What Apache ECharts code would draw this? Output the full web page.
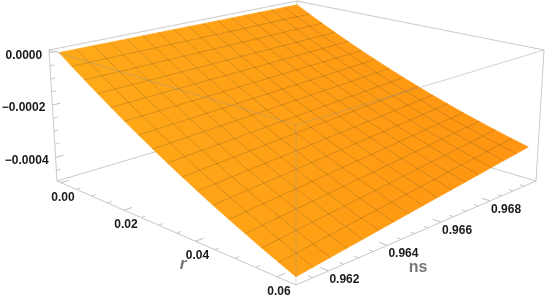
<!DOCTYPE html>
<html><head><meta charset="utf-8">
<style>html,body{margin:0;padding:0;background:#fff}#c{width:545px;height:299px}</style>
<script src="https://cdn.jsdelivr.net/npm/echarts@6/dist/echarts.min.js"></script>
</head><body><div id="c"></div>
<script>
var rValues=[0,0.0039375,0.007875,0.0118125,0.01575,0.0196875,0.023625,0.0275625,0.0315,0.0354375,0.039375,0.0433125,0.04725,0.0511875,0.055125,0.0590625,0.063];
var nsValues=[0.96116,0.9617,0.96225,0.96279,0.96334,0.96388,0.96442,0.96497,0.96551,0.96605,0.9666,0.96714,0.96769,0.96823,0.96877,0.96932,0.96986];
// surface height in units of 1e-4, one array per r value, running along nsValues
var zR00=[0,0,0,0,0,0,0,0,0,0,0,0,0,0,0,0,0];
var zR01=[-.376,-.371,-.367,-.362,-.357,-.353,-.348,-.343,-.339,-.334,-.329,-.324,-.320,-.315,-.310,-.306,-.301];
var zR02=[-.742,-.733,-.723,-.714,-.704,-.695,-.686,-.676,-.667,-.657,-.648,-.639,-.629,-.620,-.610,-.601,-.592];
var zR03=[-1.098,-1.084,-1.070,-1.056,-1.042,-1.028,-1.014,-.999,-.985,-.971,-.957,-.943,-.929,-.915,-.901,-.887,-.873];
var zR04=[-1.444,-1.425,-1.406,-1.388,-1.369,-1.350,-1.331,-1.312,-1.294,-1.275,-1.256,-1.237,-1.218,-1.200,-1.181,-1.162,-1.143];
var zR05=[-1.779,-1.756,-1.732,-1.709,-1.685,-1.662,-1.639,-1.615,-1.592,-1.568,-1.545,-1.522,-1.498,-1.475,-1.451,-1.428,-1.405];
var zR06=[-2.105,-2.077,-2.049,-2.021,-1.993,-1.965,-1.936,-1.908,-1.880,-1.852,-1.824,-1.796,-1.768,-1.740,-1.712,-1.684,-1.655];
var zR07=[-2.420,-2.387,-2.354,-2.322,-2.289,-2.256,-2.223,-2.190,-2.158,-2.125,-2.092,-2.059,-2.026,-1.994,-1.961,-1.928,-1.895];
var zR08=[-2.725,-2.688,-2.650,-2.613,-2.575,-2.538,-2.500,-2.463,-2.425,-2.388,-2.350,-2.313,-2.275,-2.238,-2.200,-2.163,-2.125];
var zR09=[-3.020,-2.978,-2.936,-2.893,-2.851,-2.809,-2.767,-2.725,-2.682,-2.640,-2.598,-2.556,-2.514,-2.471,-2.429,-2.387,-2.345];
var zR10=[-3.305,-3.258,-3.211,-3.164,-3.117,-3.071,-3.024,-2.977,-2.930,-2.883,-2.836,-2.789,-2.742,-2.695,-2.648,-2.602,-2.555];
var zR11=[-3.579,-3.527,-3.476,-3.424,-3.373,-3.321,-3.269,-3.218,-3.166,-3.115,-3.063,-3.011,-2.960,-2.908,-2.857,-2.805,-2.753];
var zR12=[-3.844,-3.788,-3.731,-3.675,-3.619,-3.563,-3.506,-3.450,-3.394,-3.338,-3.281,-3.225,-3.169,-3.113,-3.056,-3.000,-2.944];
var zR13=[-4.098,-4.037,-3.976,-3.915,-3.854,-3.794,-3.733,-3.672,-3.611,-3.550,-3.489,-3.428,-3.367,-3.306,-3.245,-3.185,-3.124];
var zR14=[-4.342,-4.276,-4.211,-4.145,-4.080,-4.014,-3.948,-3.883,-3.817,-3.752,-3.686,-3.620,-3.555,-3.489,-3.424,-3.358,-3.292];
var zR15=[-4.576,-4.506,-4.435,-4.365,-4.295,-4.224,-4.154,-4.084,-4.014,-3.943,-3.873,-3.803,-3.732,-3.662,-3.592,-3.521,-3.451];
var zR16=[-4.800,-4.725,-4.650,-4.575,-4.500,-4.425,-4.350,-4.275,-4.200,-4.125,-4.050,-3.975,-3.900,-3.825,-3.750,-3.675,-3.600];
var zByR=[zR00,zR01,zR02,zR03,zR04,zR05,zR06,zR07,zR08,zR09,zR10,zR11,zR12,zR13,zR14,zR15,zR16];
var rTicks=[0,0.02,0.04,0.06],nsTicks=[0.962,0.964,0.966,0.968],zTicks=[0,-0.0002,-0.0004];
var rTickLabels=['0.00','0.02','0.04','0.06'],nsTickLabels=['0.962','0.964','0.966','0.968'],zTickLabels=['0.0000','\u22120.0002','\u22120.0004'];
var rMinor=[0.005,0.01,0.015,0.025,0.03,0.035,0.045,0.05,0.055],nsMinor=[0.9615,0.9625,0.963,0.9635,0.9645,0.965,0.9655,0.9665,0.967,0.9675,0.9685,0.969,0.9695],zMinor=[-0.00005,-0.0001,-0.00015,-0.00025,-0.0003,-0.00035,-0.00045];
function zAt(i,j){return zByR[j][i]*1e-4;}

function homog(q){var x0=q[0][0],y0=q[0][1],x1=q[1][0],y1=q[1][1],x2=q[2][0],y2=q[2][1],x3=q[3][0],y3=q[3][1];
 var dx1=x1-x2,dx2=x3-x2,sx=x0-x1+x2-x3,dy1=y1-y2,dy2=y3-y2,sy=y0-y1+y2-y3,den=dx1*dy2-dx2*dy1;
 var g=(sx*dy2-dx2*sy)/den,h=(dx1*sy-sx*dy1)/den;
 var a=x1-x0+g*x1,b=x3-x0+h*x3,d=y1-y0+g*y1,e=y3-y0+h*y3;
 return function(u,v){var s=g*u+h*v+1;return [(a*u+b*v+x0)/s,(d*u+e*v+y0)/s];};}
var bottomFace=homog([[57,181],[296,285],[536,181],[296,110]]);
var topFace=homog([[49,50],[296,125],[544,50],[297,1]]);
var pad=0.02,zBottom=-0.00049,zTop=0.00001,rMax=rValues[16],nsLo=nsValues[0],nsHi=nsValues[16];
function proj(u,v,w){var b=bottomFace(u,v),t=topFace(u,v);return [b[0]+(t[0]-b[0])*w,b[1]+(t[1]-b[1])*w];}
function U(r){return pad+(1-2*pad)*r/rMax;}
function V(n){return pad+(1-2*pad)*(n-nsLo)/(nsHi-nsLo);}
function W(z){return (z-zBottom)/(zTop-zBottom);}
function P(r,n,z){return proj(U(r),V(n),W(z));}

function line(pts,color,width,z){return {type:'line',data:pts,showSymbol:false,symbol:'none',silent:true,animation:false,z:z,lineStyle:{color:color,width:width},clip:false};}
var series=[];
var edge='rgba(150,150,150,0.5)';
series.push(line([proj(0,0,0),proj(0,1,0),proj(1,1,0)],edge,1,1));
series.push(line([proj(0,0,1),proj(0,1,1),proj(1,1,1)],edge,1,1));
series.push(line([proj(0,0,0),proj(0,0,1)],edge,1,1));
series.push(line([proj(1,1,0),proj(1,1,1)],edge,1,1));
series.push(line([proj(0,1,0),proj(0,1,1)],edge,1,1));
var cells=[];
for(var i=0;i<16;i++)for(var j=0;j<16;j++)cells.push([i,j]);
series.push({type:'custom',coordinateSystem:'cartesian2d',silent:true,animation:false,z:2,data:cells,clip:false,encode:{x:[],y:[]},
 renderItem:function(p,api){var i=api.value(0),j=api.value(1);
  var pts=[[i,j],[i,j+1],[i+1,j+1],[i+1,j]].map(function(a){return api.coord(P(rValues[a[1]],nsValues[a[0]],zAt(a[0],a[1])));});
  var cx=(pts[0][0]+pts[2][0])/2,cy=(pts[0][1]+pts[2][1])/2,t=(cx-60)/470;
  var g=Math.round(171-23*t+(cy-150)*0.012),b=Math.round(25-9*t);
  var c='rgb(255,'+g+','+b+')';
  return {type:'polygon',shape:{points:pts},style:{fill:c,stroke:c,lineWidth:0.6}};}});
var mesh='rgba(85,60,10,0.25)';
for(var a=1;a<16;a++){(function(a){
 series.push(line(rValues.map(function(r,j){return P(r,nsValues[a],zAt(a,j));}),mesh,1,3));
 series.push(line(nsValues.map(function(n,i){return P(rValues[a],n,zAt(i,a));}),mesh,1,3));
})(a);}
var front='rgba(150,150,150,0.42)';
series.push(line([proj(0,0,1),proj(1,0,1),proj(1,1,1)],front,1,4));
series.push(line([proj(1,0,0),proj(1,0,1)],front,1,4));
series.push(line([proj(0,0,0),proj(1,0,0),proj(1,1,0)],'#c8c8c8',1,4));
function tick(list,fn,col){list.forEach(function(t){series.push(line(fn(t),col,1,4));});}
function rT(l){return function(r){var u=U(r);return [proj(u,0,0),proj(u,l,0)];};}
function nT(l){return function(n){var v=V(n);return [proj(1,v,0),proj(1-l,v,0)];};}
function zT(l){return function(z){var w=W(z);return [proj(0,0,w),proj(0,l,w)];};}
tick(rTicks,rT(0.028),'#c0c0c0');tick(rMinor,rT(0.015),'#c8c8c8');
tick(nsTicks,nT(0.028),'#c0c0c0');tick(nsMinor,nT(0.015),'#c8c8c8');
tick(zTicks,zT(0.028),'#c0c0c0');tick(zMinor,zT(0.015),'#c8c8c8');
function labels(items){return {type:'custom',coordinateSystem:'cartesian2d',silent:true,animation:false,z:5,clip:false,data:items.map(function(_,i){return i;}),encode:{x:[],y:[]},
 renderItem:function(p,api){var it=items[api.value(0)],c=api.coord(it.pos);
  return {type:'text',x:c[0],y:c[1],style:{text:it.text,fill:it.color||'#1a1a1a',font:it.font||'bold 12px "Liberation Sans"',textAlign:it.align||'center',textVerticalAlign:'middle'}};}};}
var items=[];
rTicks.forEach(function(r,i){var q=proj(U(r),0,0);items.push({text:rTickLabels[i],pos:[q[0]+2,q[1]+14.5]});});
nsTicks.forEach(function(n,i){var q=proj(1,V(n),0);items.push({text:nsTickLabels[i],pos:[q[0]+16,q[1]+8.5]});});
zTicks.forEach(function(z,i){var q=proj(0,0,W(z));items.push({text:zTickLabels[i],pos:[q[0]-7,q[1]+3],align:'right'});});
items.push({text:'r',pos:[183,264],color:'#777',font:'italic bold 17px "Liberation Sans"'});
items.push({text:'ns',pos:[418,268],color:'#777',font:'bold 16px "Liberation Sans"'});
series.push(labels(items));
var chart=echarts.init(document.getElementById('c'),null,{renderer:'canvas'});
chart.setOption({animation:false,backgroundColor:'#fff',
 grid:{left:0,right:0,top:0,bottom:0},
 xAxis:{type:'value',min:0,max:545,show:false},
 yAxis:{type:'value',min:0,max:299,inverse:true,show:false},
 series:series});
</script></body></html>
